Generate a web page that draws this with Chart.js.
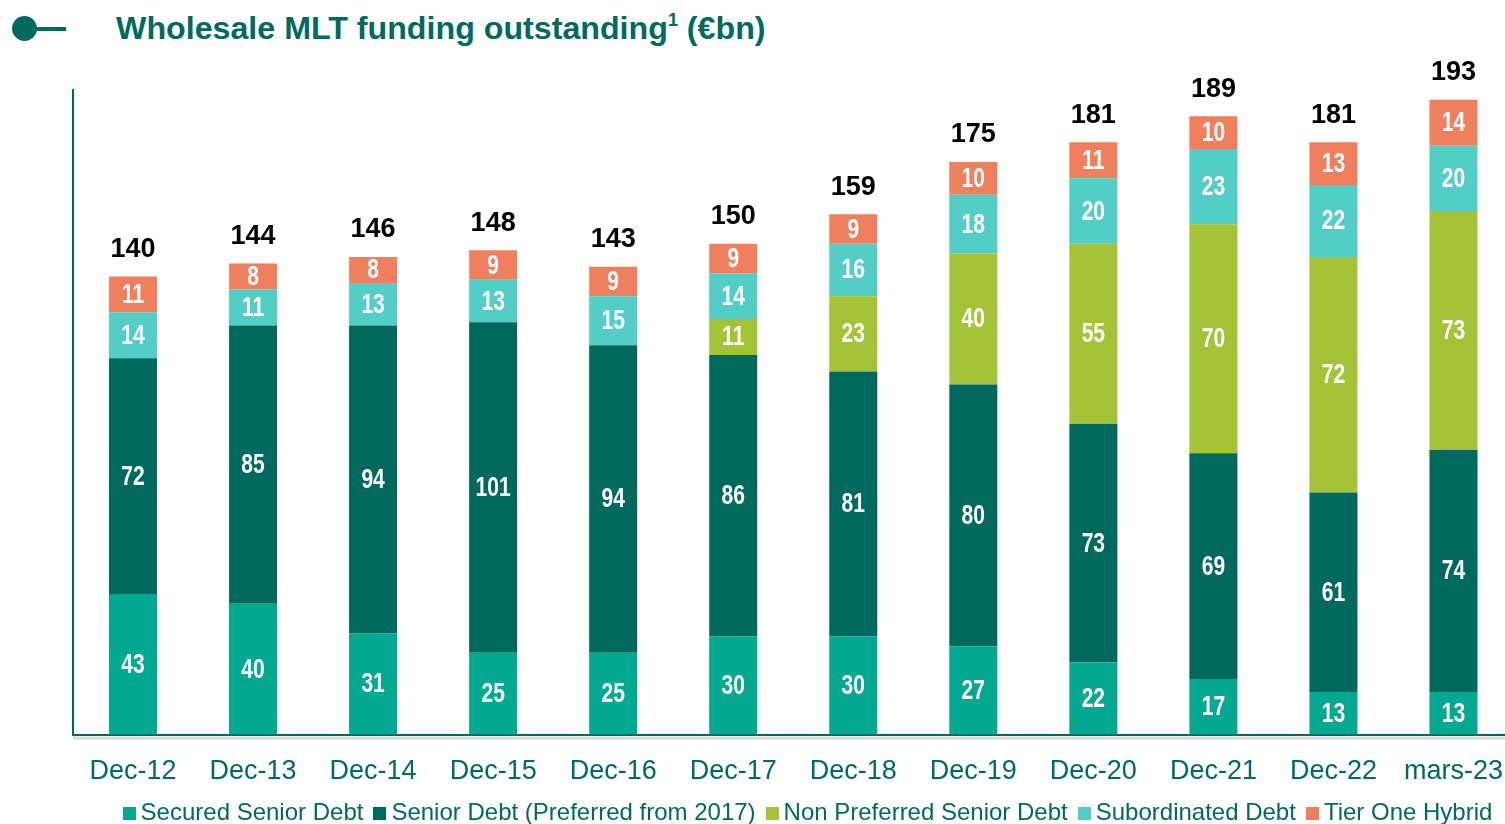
<!DOCTYPE html>
<html>
<head>
<meta charset="utf-8">
<script src="https://cdn.jsdelivr.net/npm/chart.js@4.4.0/dist/chart.umd.min.js"></script>
<style>
  html, body { margin: 0; padding: 0; background: #fff; overflow: hidden; }
  #wrap { position: relative; width: 1505px; height: 824px; overflow: hidden; }
  #title { position: absolute; left: 116px; top: 10px; font: bold 32.2px "Liberation Sans", Arial, sans-serif; color: #006a5e; white-space: nowrap; }
  #title sup { font-size: 18px; vertical-align: 13px; line-height: 0; }
  #dot { position: absolute; left: 12px; top: 16px; width: 25px; height: 25px; border-radius: 50%; background: #006a5e; }
  #bar { position: absolute; left: 30px; top: 27px; width: 36px; height: 4px; background: #006a5e; }
  #myChart { position: absolute; left: 0; top: 0; }
  #legend { position: absolute; left: 0; width: 1505px; top: 798px; padding-left: 120px; box-sizing: border-box; text-align: center; white-space: nowrap;
            font: 24px "Liberation Sans", Arial, sans-serif; color: #006a5e; line-height: 28px; }
  #legend span.item { margin-right: 10px; }
  #legend span.box { display: inline-block; width: 13px; height: 13px; margin-right: 5px; vertical-align: 0px; }
</style>
</head>
<body>
<div id="wrap">
  <div id="dot"></div><div id="bar"></div>
  <div id="title">Wholesale MLT funding outstanding<sup>1</sup> (€bn)</div>
  <canvas id="myChart" width="1516" height="824"></canvas>
  <div id="legend"></div>
</div>
<script>
// categories
let labels = ['Dec-12', 'Dec-13', 'Dec-14', 'Dec-15', 'Dec-16', 'Dec-17', 'Dec-18', 'Dec-19', 'Dec-20', 'Dec-21', 'Dec-22', 'mars-23'];

// series (€bn), bottom to top
let secured = [43, 40, 31, 25, 25, 30, 30, 27, 22, 17, 13, 13];
let senior = [72, 85, 94, 101, 94, 86, 81, 80, 73, 69, 61, 74];
let nonPreferred = [0, 0, 0, 0, 0, 11, 23, 40, 55, 70, 72, 73];
let subordinated = [14, 11, 13, 13, 15, 14, 16, 18, 20, 23, 22, 20];
let tierOne = [11, 8, 8, 9, 9, 9, 9, 10, 11, 10, 13, 14];

// totals shown above the bars
let totals = [140, 144, 146, 148, 143, 150, 159, 175, 181, 189, 181, 193];

let teal = '#006a5e';

// white numbers inside the segments + black totals on top
let barLabels = {
    id: 'barLabels',
    afterDatasetsDraw(chart) {
        let ctx = chart.ctx;
        let sx = 0.78; // fake a narrow font
        ctx.save();
        ctx.textAlign = 'center';
        ctx.textBaseline = 'middle';
        ctx.fillStyle = '#fff';
        ctx.font = 'bold 27px "Liberation Sans", Arial, sans-serif';
        chart.data.datasets.forEach((ds, i) => {
            chart.getDatasetMeta(i).data.forEach((bar, j) => {
                if (!ds.data[j]) return;
                ctx.save();
                ctx.translate(bar.x, (bar.y + bar.base) / 2 + 1);
                ctx.scale(sx, 1);
                ctx.fillText(ds.data[j], 0, 0);
                ctx.restore();
            });
        });
        let last = chart.getDatasetMeta(chart.data.datasets.length - 1).data;
        ctx.fillStyle = '#000';
        ctx.font = 'bold 27px "Liberation Sans", Arial, sans-serif';
        last.forEach((bar, j) => {
            ctx.fillText(totals[j], bar.x, bar.y - 27);
        });
        // grey shadow line under the axis
        let a = chart.chartArea;
        ctx.fillStyle = '#d9d9d9';
        ctx.fillRect(a.left, a.bottom + 2, a.right - a.left, 3);
        ctx.restore();
    }
};

let myChart = document.getElementById('myChart').getContext('2d');

let chart = new Chart(myChart, {
    type: 'bar',
    data: {
        labels: labels,
        datasets: [
            { label: 'Secured Senior Debt', data: secured, backgroundColor: '#00a98f' },
            { label: 'Senior Debt (Preferred from 2017)', data: senior, backgroundColor: '#00695d' },
            { label: 'Non Preferred Senior Debt', data: nonPreferred, backgroundColor: '#a5c337' },
            { label: 'Subordinated Debt', data: subordinated, backgroundColor: '#52cec6' },
            { label: 'Tier One Hybrid', data: tierOne, backgroundColor: '#f07f5e' }
        ]
    },
    plugins: [barLabels],
    options: {
        responsive: false,
        animation: false,
        layout: { autoPadding: false, padding: { top: 90, left: 65, right: 0, bottom: 23 } },
        datasets: {
            bar: { barPercentage: 0.4, categoryPercentage: 1, borderWidth: 0 }
        },
        scales: {
            x: {
                stacked: true,
                grid: { display: false },
                border: { display: true, color: teal, width: 2 },
                ticks: {
                    color: teal,
                    padding: 13,
                    maxRotation: 0,
                    font: { family: '"Liberation Sans", Arial, sans-serif', size: 27 }
                }
            },
            y: {
                stacked: true,
                min: 0,
                max: 197,
                grid: { display: false },
                border: { display: true, color: teal, width: 2 },
                ticks: { display: false }
            }
        },
        plugins: {
            tooltip: { enabled: false },
            legend: { display: false }
        }
    }
});

// legend built from the chart's datasets
document.getElementById('legend').innerHTML = chart.data.datasets.map(ds =>
    '<span class="item"><span class="box" style="background:' + ds.backgroundColor + '"></span>' + ds.label + '</span>'
).join('');
</script>
</body>
</html>
